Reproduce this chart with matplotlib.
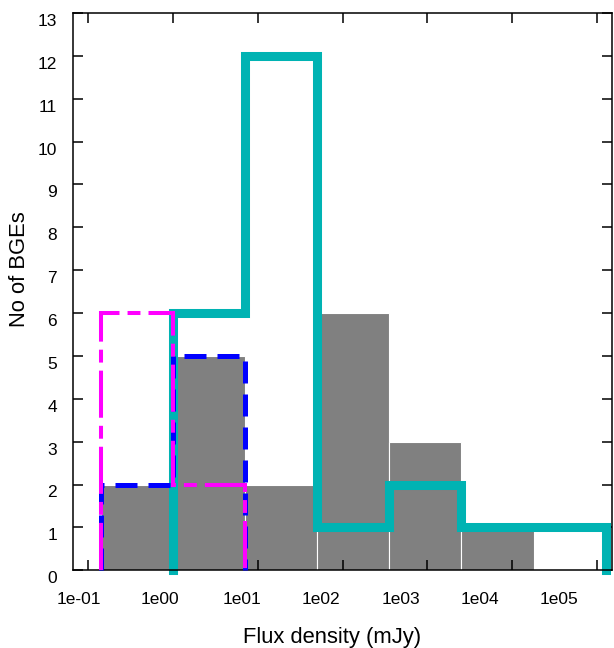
import numpy as np
import matplotlib
matplotlib.use("Agg")
import matplotlib.pyplot as plt
from matplotlib.ticker import NullLocator
from matplotlib.transforms import ScaledTranslation

# bin edges in log10(flux / mJy), shared by all histograms
log_edges = [-0.85, 0.0, 0.85, 1.70, 2.55, 3.40, 4.25, 5.10]

all_counts = [2, 5, 2, 6, 3, 1]          # grey bars, bins 0-5
cyan_counts = [6, 12, 1, 2, 1, 1]        # bins 1-6
blue_counts = [2, 5]                     # bins 0-1
magenta_counts = [6, 2]                  # bins 0-1

xtick_vals = [1e-1, 1e0, 1e1, 1e2, 1e3, 1e4, 1e5]
xtick_labels = ["1e-01", "1e00", "1e01", "1e02", "1e03", "1e04", "1e05"]

plt.rcParams['font.family'] = ['Liberation Sans', 'DejaVu Sans']

edges = 10 ** np.array(log_edges)

fig = plt.figure(figsize=(6.14, 6.48), dpi=100)
ax = fig.add_axes([0.119, 0.120, 0.878, 0.860])
ax.set_xscale('log')

ax.bar(edges[:-2], all_counts, width=np.diff(edges[:-1]), align='edge',
       color='#808080', edgecolor='white', linewidth=0.8, zorder=1)

ax.stairs(cyan_counts, edges[1:], baseline=0, color='#00b3b3', lw=6.5,
          joinstyle='miter', capstyle='projecting', clip_on=False, zorder=2)
ax.stairs(blue_counts, edges[:3], baseline=0, color='#0000ff', lw=3.6,
          linestyle=(0, (4.4, 2.2)), joinstyle='miter', clip_on=False, zorder=3)
ax.stairs(magenta_counts, edges[:3], baseline=0, color='#ff00ff', lw=2.9,
          linestyle=(0, (11.7, 2.0, 3.2, 2.0)), joinstyle='miter',
          clip_on=False, zorder=4)

ax.set_xlim(10 ** -1.177, 10 ** 5.177)
ax.set_ylim(0, 13)

ax.set_xticks(xtick_vals, xtick_labels)
ax.xaxis.set_minor_locator(NullLocator())
ax.set_yticks(range(14))

ax.tick_params(direction='in', top=True, right=True, length=7, width=1.1,
               labelsize=12.5)
ax.tick_params(axis='x', pad=15.5)
ax.tick_params(axis='y', pad=11.5)
for s in ax.spines.values():
    s.set_linewidth(1.1)

# the original's tick labels drift off their ticks: y labels sit a bit low,
# x labels creep further left towards the right end
yshift = ScaledTranslation(0, -5 / 72, fig.dpi_scale_trans)
for lab in ax.get_yticklabels():
    lab.set_transform(lab.get_transform() + yshift)

xlabel_shift_px = [-9, -13, -16, -22, -27, -32, -38]
for lab, dx in zip(ax.get_xticklabels(), xlabel_shift_px):
    lab.set_transform(lab.get_transform()
                      + ScaledTranslation(dx / 100, 0, fig.dpi_scale_trans))

ax.set_xlabel("Flux density (mJy)", fontsize=15.8)
ax.set_ylabel("No of BGEs", fontsize=15.8)
ax.xaxis.set_label_coords(0.4805, -0.102)
ax.yaxis.set_label_coords(-0.0805, 0.54)

fig.savefig("out.png", dpi=100)
